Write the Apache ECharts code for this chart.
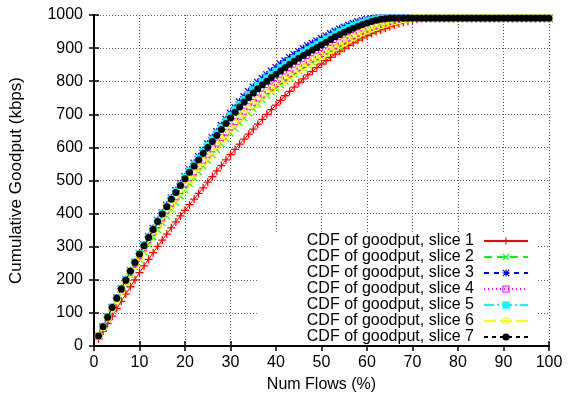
<!DOCTYPE html>
<html>
<head>
<meta charset="utf-8">
<script src="https://cdn.jsdelivr.net/npm/echarts@6/dist/echarts.min.js"></script>
<style>
  html, body { margin: 0; padding: 0; background: #fff; width: 568px; height: 398px; overflow: hidden; }
  #chart { width: 568px; height: 398px; overflow: hidden; }
</style>
</head>
<body>
<div id="chart"></div>
<script>
// Percentage of flows (x positions of every sample)
const flowPct = [1,2,3,4,5,6,7,8,9,10,11,12,13,14,15,16,17,18,19,20,
  21,22,23,24,25,26,27,28,29,30,31,32,33,34,35,36,37,38,39,40,
  41,42,43,44,45,46,47,48,49,50,51,52,53,54,55,56,57,58,59,60,
  61,62,63,64,65,66,67,68,69,70,71,72,73,74,75,76,77,78,79,80,
  81,82,83,84,85,86,87,88,89,90,91,92,93,94,95,96,97,98,99,100];

// Cumulative goodput (kbps) per slice
const slice1 = [22,45,68,90,113,135,157,179,200,222,
  242,262,282,301,320,338,357,375,393,410,
  427,444,461,478,495,512,529,545,562,578,
  594,610,625,640,655,670,685,700,714,728,
  742,756,769,782,795,807,819,830,841,852,
  862,872,882,891,900,908,916,924,931,938,
  944,950,955,960,965,970,974,978,981,984,
  987,990,990,990,990,990,990,990,990,990,
  990,990,990,990,990,990,990,990,990,990,
  990,990,990,990,990,990,990,990,990,990];
const slice2 = [29,56,84,111,138,164,189,214,238,262,
  284,307,329,351,372,393,413,433,452,471,
  490,508,526,543,560,577,593,610,626,642,
  658,674,689,704,717,731,744,756,767,778,
  789,800,811,821,831,840,849,858,866,874,
  883,891,899,907,915,923,930,938,945,951,
  957,963,968,973,977,981,984,987,989,990,
  990,990,990,990,990,990,990,990,990,990,
  990,990,990,990,990,990,990,990,990,990,
  990,990,990,990,990,990,990,990,990,990];
const slice3 = [30,58,87,116,145,173,200,227,253,279,
  305,330,355,379,402,425,447,469,490,511,
  532,552,572,591,610,629,647,666,684,703,
  720,737,753,768,782,796,808,819,830,841,
  851,861,871,880,889,898,906,914,921,929,
  936,943,950,957,963,969,974,979,983,986,
  988,990,990,990,990,990,990,990,990,990,
  990,990,990,990,990,990,990,990,990,990,
  990,990,990,990,990,990,990,990,990,990,
  990,990,990,990,990,990,990,990,990,990];
const slice4 = [31,59,88,117,145,171,197,223,248,273,
  297,321,344,367,389,410,431,451,470,489,
  508,526,544,562,579,596,613,630,646,662,
  678,694,709,723,736,749,761,772,783,793,
  803,813,823,833,842,851,860,868,876,884,
  892,900,908,916,924,931,938,945,952,958,
  963,968,972,976,980,983,986,988,990,990,
  990,990,990,990,990,990,990,990,990,990,
  990,990,990,990,990,990,990,990,990,990,
  990,990,990,990,990,990,990,990,990,990];
const slice5 = [30,58,88,117,145,173,200,227,253,279,
  304,329,353,378,401,423,445,467,488,509,
  529,549,568,588,606,625,643,661,679,697,
  714,730,745,760,774,787,799,810,821,831,
  841,851,861,870,879,888,896,904,912,920,
  928,935,943,950,956,962,968,973,978,982,
  985,988,990,990,990,990,990,990,990,990,
  990,990,990,990,990,990,990,990,990,990,
  990,990,990,990,990,990,990,990,990,990,
  990,990,990,990,990,990,990,990,990,990];
const slice6 = [30,57,85,113,141,167,193,219,243,268,
  291,315,338,361,383,404,425,445,464,483,
  502,520,538,556,572,589,606,623,640,656,
  672,688,703,717,729,742,754,765,776,785,
  796,806,816,826,835,844,853,861,869,877,
  885,894,902,910,918,926,933,941,948,954,
  959,964,969,973,977,981,984,987,989,990,
  990,990,990,990,990,990,990,990,990,990,
  990,990,990,990,990,990,990,990,990,990,
  990,990,990,990,990,990,990,990,990,990];
const slice7 = [30,58,87,116,144,172,199,226,252,278,
  303,328,352,376,399,421,443,464,485,505,
  525,544,563,582,600,618,636,654,672,689,
  706,722,737,751,764,777,789,800,811,821,
  831,841,851,860,869,878,886,894,902,910,
  918,926,934,941,948,954,960,966,971,976,
  980,984,987,989,990,990,990,990,990,990,
  990,990,990,990,990,990,990,990,990,990,
  990,990,990,990,990,990,990,990,990,990,
  990,990,990,990,990,990,990,990,990,990];

const sliceNames = [
  'CDF of goodput, slice 1', 'CDF of goodput, slice 2', 'CDF of goodput, slice 3',
  'CDF of goodput, slice 4', 'CDF of goodput, slice 5', 'CDF of goodput, slice 6',
  'CDF of goodput, slice 7'
];
const sliceValues = [slice1, slice2, slice3, slice4, slice5, slice6, slice7];

// point glyphs
const PLUS = 'path://M4.2,0h1.6v4.2h4.2v1.6h-4.2v4.2h-1.6v-4.2h-4.2v-1.6h4.2z';
const CROSS = 'path://M0,1.1L1.1,0L10,8.9L8.9,10z M8.9,0L10,1.1L1.1,10L0,8.9z';
const STAR = 'path://M4.2,0h1.6v4.2h4.2v1.6h-4.2v4.2h-1.6v-4.2h-4.2v-1.6h4.2z M0,1.1L1.1,0L10,8.9L8.9,10z M8.9,0L10,1.1L1.1,10L0,8.9z';
const OPEN_SQ = 'path://M0,0h10v10h-10z M1.5,1.5v7h7v-7z';
const OPEN_CIRC = 'path://M5,0A5,5,0,1,1,5,10A5,5,0,1,1,5,0z M5,1.6A3.4,3.4,0,1,0,5,8.4A3.4,3.4,0,1,0,5,1.6z';

const styles = [
  { color: '#ff0000', symbol: PLUS,      size: 8, dash: 'solid' },
  { color: '#00ff00', symbol: CROSS,     size: 7, dash: [8, 5] },
  { color: '#0000ff', symbol: STAR,      size: 8, dash: [5, 5] },
  { color: '#ff00ff', symbol: OPEN_SQ,   size: 7, dash: [1, 3] },
  { color: '#00ffff', symbol: 'rect',    size: 7, dash: [10, 3, 2, 3] },
  { color: '#ffff00', symbol: OPEN_CIRC, size: 8, dash: [12, 4] },
  { color: '#000000', symbol: 'circle',  size: 7, dash: [4, 4] }
];

const FONT = 'Liberation Sans';

const series = sliceValues.map((vals, i) => ({
  name: sliceNames[i],
  type: 'line',
  data: flowPct.map((x, k) => [x, vals[k]]),
  symbol: styles[i].symbol,
  symbolSize: styles[i].size,
  symbolKeepAspect: true,
  showAllSymbol: true,
  lineStyle: { color: styles[i].color, width: 1, type: styles[i].dash },
  itemStyle: { color: styles[i].color, borderWidth: 0 },
  emphasis: { disabled: true },
  z: 2 + i * 0.01
}));

const plain = (v) => String(v);

const chart = echarts.init(document.getElementById('chart'), null, { renderer: 'canvas', width: 568, height: 398 });
chart.setOption({
  animation: false,
  backgroundColor: '#fff',
  textStyle: { fontFamily: FONT },
  grid: { left: 92, right: 19, top: 15, bottom: 48, containLabel: false },
  legend: {
    data: sliceNames,
    orient: 'vertical',
    align: 'right',
    right: 30,
    top: 233,
    padding: [0, 9, 0, 50],
    itemWidth: 44,
    itemHeight: 9,
    itemGap: 0,
    backgroundColor: '#fff',
    selectedMode: false,
    textStyle: { fontFamily: FONT, fontSize: 16, color: '#000', lineHeight: 16, padding: [0, 5, 0, 0] },
    z: 10
  },
  xAxis: [{
    type: 'value', min: 0, max: 100, interval: 10, position: 'bottom',
    name: 'Num Flows (%)', nameLocation: 'middle', nameGap: 31,
    nameTextStyle: { fontFamily: FONT, fontSize: 16, color: '#000' },
    axisLine: { lineStyle: { color: '#000', width: 2 } },
    axisTick: { inside: true, length: 5, lineStyle: { color: '#000', width: 1.5 } },
    axisLabel: { fontFamily: FONT, fontSize: 16, color: '#000', margin: 9, formatter: plain },
    splitLine: { show: true, lineStyle: { color: '#555', width: 1, type: [1, 2] } }
  }, {
    type: 'value', min: 0, max: 100, interval: 10, position: 'top',
    axisLine: { lineStyle: { color: '#000', width: 2 } },
    axisTick: { inside: true, length: 5, lineStyle: { color: '#000', width: 1.5 } },
    axisLabel: { show: false },
    splitLine: { show: false }
  }],
  yAxis: [{
    type: 'value', min: 0, max: 1000, interval: 100, position: 'left',
    name: 'Cumulative Goodput (kbps)', nameLocation: 'middle', nameGap: 69,
    nameTextStyle: { fontFamily: FONT, fontSize: 17, color: '#000' },
    axisLine: { show: true, lineStyle: { color: '#000', width: 2 } },
    axisTick: { show: true, inside: true, length: 5, lineStyle: { color: '#000', width: 1.5 } },
    axisLabel: { fontFamily: FONT, fontSize: 16, color: '#000', margin: 11, formatter: plain },
    splitLine: { show: true, lineStyle: { color: '#555', width: 1, type: [1, 2] } }
  }, {
    type: 'value', min: 0, max: 1000, interval: 100, position: 'right',
    axisLine: { show: true, lineStyle: { color: '#000', width: 2 } },
    axisTick: { show: true, inside: true, length: 5, lineStyle: { color: '#000', width: 1.5 } },
    axisLabel: { show: false },
    splitLine: { show: false }
  }],
  series: series
});
</script>
</body>
</html>
